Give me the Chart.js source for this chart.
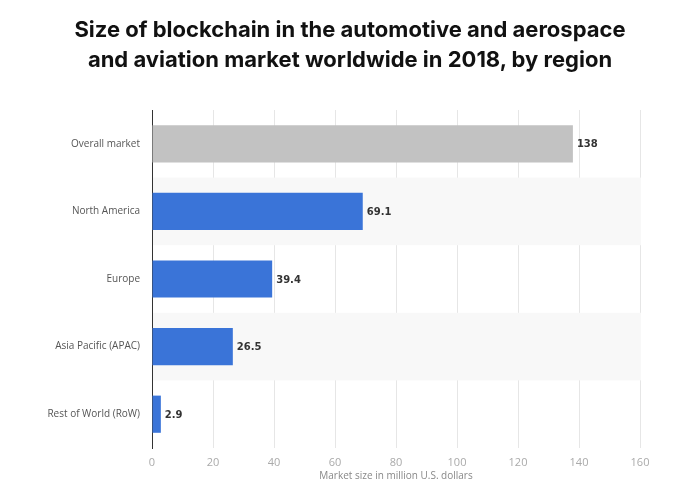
<!DOCTYPE html>
<html>
<head>
<meta charset="utf-8">
<script src="https://cdn.jsdelivr.net/npm/chart.js@4/dist/chart.umd.min.js"></script>
<style>
  html, body { margin: 0; padding: 0; background: #fff; }
  #wrap { width: 700px; height: 504px; position: relative; }
  #titulo {
    position: absolute; left: 0; top: 14px; width: 700px; text-align: center;
    font-family: Inter, sans-serif; font-weight: bold; font-size: 22px; line-height: 30px; color: #111;
  }
</style>
</head>
<body>
<div id="wrap">
  <canvas id="grafico"></canvas>
  <div id="titulo">Size of blockchain in the automotive and aerospace<br>and aviation market worldwide in 2018, by region</div>
</div>
<script>
const regiones = ['Overall market', 'North America', 'Europe', 'Asia Pacific (APAC)', 'Rest of World (RoW)'];
const valores = [138, 69.1, 39.4, 26.5, 2.9];
const colores = ['#c2c2c2', '#3a74d8', '#3a74d8', '#3a74d8', '#3a74d8'];
const ticksX = [0, 20, 40, 60, 80, 100, 120, 140, 160];
const tituloEje = 'Market size in million U.S. dollars';

// franjas grises alternas detrás de las barras
const franjas = {
  id: 'franjas',
  beforeDatasetsDraw(chart) {
    const { ctx, chartArea, scales } = chart;
    const y = scales.y;
    const alto = (y.bottom - y.top) / regiones.length;
    ctx.save();
    ctx.fillStyle = '#f8f8f8';
    regiones.forEach((r, i) => {
      if (i % 2 === 1) {
        const c = y.getPixelForValue(i);
        ctx.fillRect(chartArea.left + 1, c - alto / 2, chartArea.right - chartArea.left, alto);
      }
    });
    ctx.restore();
  }
};

// etiquetas de valor al final de cada barra
const etiquetas = {
  id: 'etiquetas',
  afterDatasetsDraw(chart) {
    const { ctx } = chart;
    const meta = chart.getDatasetMeta(0);
    ctx.save();
    ctx.font = 'bold 10px "DejaVu Sans"';
    ctx.fillStyle = '#333';
    ctx.textBaseline = 'middle';
    meta.data.forEach((bar, i) => {
      ctx.fillText(String(valores[i]), bar.x + 4, bar.y + 1);
    });
    ctx.restore();
  }
};

const ctx = document.getElementById('grafico').getContext('2d');
new Chart(ctx, {
  type: 'bar',
  data: {
    labels: regiones,
    datasets: [{
      data: valores,
      backgroundColor: colores,
      categoryPercentage: 1,
      barPercentage: 0.55
    }]
  },
  options: {
    indexAxis: 'y',
    responsive: true,
    maintainAspectRatio: false,
    animation: false,
    layout: { padding: { left: 0, right: 60, top: 110, bottom: 0 } },
    scales: {
      x: {
        min: 0,
        max: 160,
        afterBuildTicks(s) { s.ticks = ticksX.map(v => ({ value: v })); },
        ticks: { color: '#aaa', padding: 8, font: { size: 11, family: 'Open Sans' } },
        grid: { color: '#e6e6e6', drawTicks: false },
        border: { display: false },
        title: { display: true, text: tituloEje, color: '#888', padding: { top: 1, bottom: 22 }, font: { size: 10, family: 'Open Sans' } },
        afterFit(s) { s.height = 56; }
      },
      y: {
        ticks: { color: '#555', padding: 12, font: { size: 10, family: 'Open Sans' } },
        grid: { display: false, drawTicks: false },
        border: { color: '#333', width: 1 },
        afterFit(s) { s.width = 152; }
      }
    },
    plugins: {
      legend: { display: false },
      tooltip: { enabled: false },
      title: { display: false }
    }
  },
  plugins: [franjas, etiquetas]
});
</script>
</body>
</html>
